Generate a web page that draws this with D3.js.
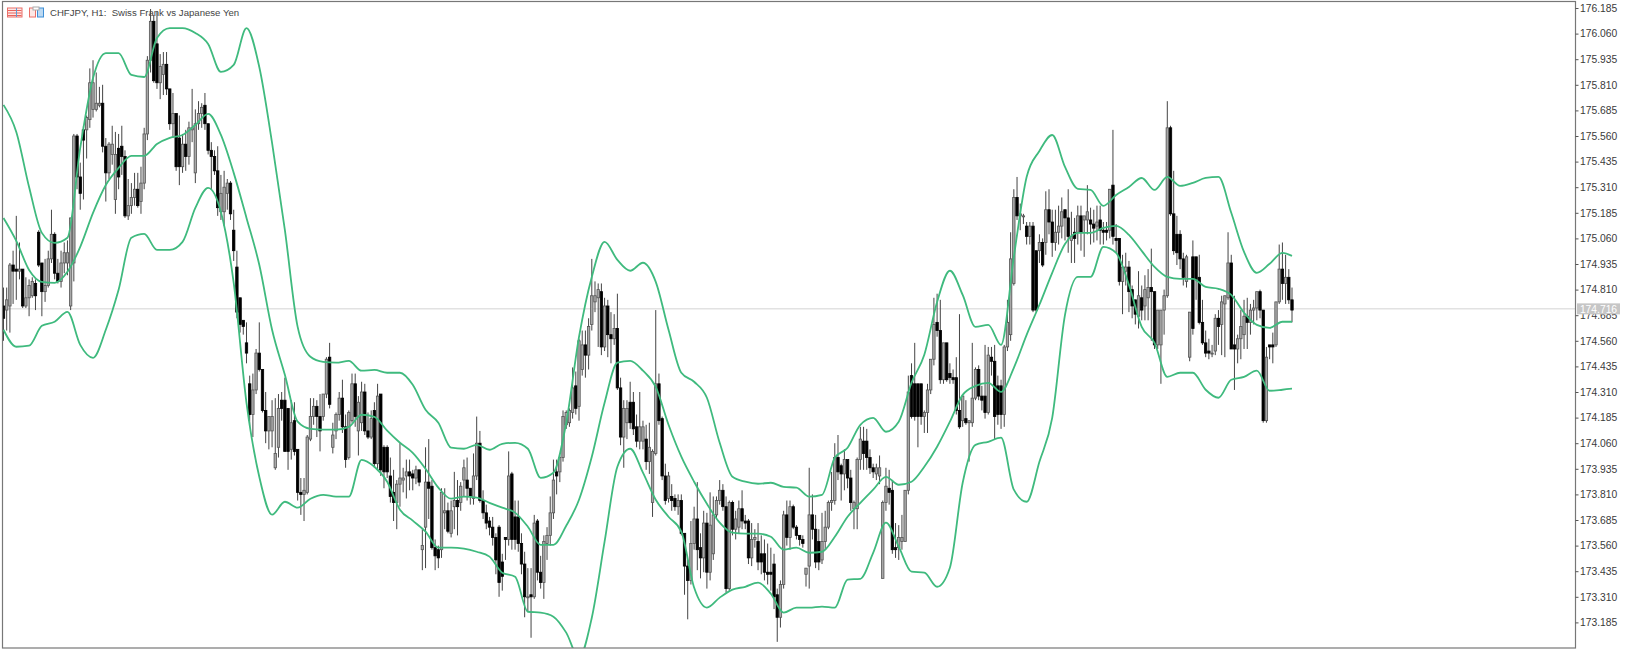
<!DOCTYPE html><html lang="en"><head><meta charset="utf-8">
<title>CHFJPY, H1</title>
<style>
html, body { margin: 0; padding: 0; background: #fff; overflow: hidden; }
svg { display: block; font-family: "Liberation Sans", sans-serif; }
</style>
<script src="https://cdn.jsdelivr.net/npm/d3@7"></script>
</head>
<body>
<div id="chart"></div>
<script>
const title = "CHFJPY, H1:  Swiss Frank vs Japanese Yen";
const lastPrice = 174.716;
const priceTicks = [176.185,176.060,175.935,175.810,175.685,175.560,175.435,175.310,175.185,175.060,174.935,174.810,174.685,174.560,174.435,174.310,174.185,174.060,173.935,173.810,173.685,173.560,173.435,173.310,173.185];

// one value per H1 bar
const highs = [
174.82,174.82,174.94,175.00,175.17,175.04,174.91,174.87,174.86,174.87,
174.86,175.10,174.94,174.96,175.00,175.20,175.09,174.96,175.00,175.04,
175.05,175.16,175.57,175.57,175.43,175.61,175.66,175.89,175.93,175.87,
175.80,175.81,175.55,175.53,175.61,175.58,175.57,175.61,175.49,175.35,
175.33,175.38,175.38,175.41,175.60,175.95,176.18,176.15,176.17,175.96,
175.97,175.97,175.79,175.77,175.67,175.66,175.57,175.59,175.63,175.79,
175.69,175.73,175.72,175.77,175.62,175.53,175.49,175.51,175.37,175.39,
175.35,175.34,175.20,175.00,174.77,174.66,174.65,174.39,174.40,174.52,
174.65,174.42,174.31,174.19,174.27,174.28,174.30,174.31,174.38,174.23,
174.27,174.26,174.03,173.89,173.89,174.10,174.28,174.28,174.27,174.30,
174.30,174.48,174.55,174.16,174.21,174.31,174.37,174.20,174.22,174.40,
174.40,174.29,174.36,174.35,174.21,174.22,174.26,174.35,174.30,174.05,
174.05,173.99,173.93,173.88,174.06,173.94,173.98,173.98,173.93,173.95,
173.93,173.64,174.04,174.08,173.88,173.59,173.56,173.84,173.84,173.77,
173.78,173.92,173.88,173.87,173.98,173.99,173.84,174.01,174.19,174.12,
173.83,173.76,173.70,173.70,173.62,173.66,173.52,173.60,174.02,173.92,
173.78,173.78,173.62,173.53,173.45,173.45,173.71,173.69,173.51,173.61,
173.65,173.80,173.98,173.98,174.00,174.22,174.22,174.23,174.43,174.41,
174.57,174.61,174.61,174.67,174.96,174.85,174.84,174.84,174.77,174.76,
174.70,174.69,174.79,174.38,174.27,174.27,174.36,174.31,174.20,174.31,
174.17,174.15,174.16,174.03,174.71,174.40,174.19,173.96,173.92,173.86,
173.81,173.81,173.81,173.62,173.49,173.68,173.75,173.87,173.62,173.73,
173.72,173.82,173.80,173.80,173.88,173.86,173.80,173.78,173.78,173.73,
173.78,173.83,173.71,173.69,173.67,173.64,173.67,173.61,173.59,173.57,
173.55,173.52,173.35,173.39,173.73,173.78,173.78,173.76,173.66,173.61,
173.61,173.45,173.94,173.81,173.71,173.64,173.72,173.73,173.78,173.92,
174.06,174.10,173.96,174.03,173.97,173.93,173.78,173.99,174.14,174.14,
174.13,174.03,173.96,173.96,174.00,173.78,173.94,173.93,173.88,173.67,
173.66,173.71,173.83,174.39,174.45,174.55,174.35,174.35,174.22,174.35,
174.47,174.77,174.79,174.76,174.55,174.55,174.45,174.42,174.48,174.69,
174.30,174.27,174.17,174.55,174.43,174.44,174.34,174.54,174.53,174.53,
174.54,174.39,174.37,174.54,174.76,175.09,175.30,175.36,175.23,175.18,
175.14,175.14,175.14,174.99,175.08,175.06,175.29,175.30,175.20,175.20,
175.22,175.26,175.20,175.30,175.19,175.16,175.22,175.22,175.16,175.32,
175.21,175.20,175.22,175.22,175.14,175.14,175.30,175.59,175.13,175.06,
174.98,174.99,174.95,174.83,174.76,174.90,174.83,174.88,174.91,175.01,
174.80,174.71,174.71,174.81,175.73,175.61,175.39,175.17,175.10,174.99,
174.98,174.70,175.05,174.97,174.98,174.76,174.61,174.57,174.54,174.69,
174.71,174.78,174.78,175.09,174.98,174.78,174.59,174.71,174.76,174.77,
174.74,174.76,174.78,174.81,174.71,174.53,174.54,174.60,174.75,175.03,
175.04,174.98,174.91,174.82];
const lows = [
174.56,174.61,174.60,174.74,174.76,174.86,174.72,174.72,174.68,174.77,
174.71,174.92,174.68,174.75,174.82,174.94,174.86,174.84,174.82,174.89,
174.88,174.71,174.85,175.30,175.20,175.25,175.45,175.60,175.65,175.68,
175.70,175.48,175.24,175.35,175.42,175.18,175.30,175.37,175.16,175.15,
175.18,175.22,175.21,175.18,175.30,175.54,175.87,175.82,175.79,175.74,
175.76,175.76,175.59,175.55,175.39,175.32,175.38,175.39,175.42,175.53,
175.33,175.59,175.60,175.59,175.47,175.30,175.37,175.17,175.15,175.12,
175.20,175.15,174.95,174.67,174.60,174.59,174.45,174.14,174.09,174.30,
174.41,174.21,174.06,174.03,174.04,173.93,173.99,174.17,174.02,173.93,
173.98,174.00,173.78,173.71,173.68,173.81,174.07,174.15,174.09,174.02,
174.17,174.28,174.23,174.01,174.08,174.17,174.11,173.94,173.98,174.16,
174.14,174.00,174.12,174.10,174.08,174.08,173.94,173.93,173.90,173.84,
173.89,173.77,173.68,173.64,173.75,173.82,173.79,173.83,173.83,173.86,
173.85,173.44,173.45,173.69,173.54,173.44,173.45,173.50,173.64,173.62,
173.60,173.64,173.61,173.73,173.80,173.78,173.76,173.76,173.88,173.77,
173.69,173.64,173.61,173.56,173.42,173.31,173.34,173.49,173.56,173.54,
173.54,173.53,173.42,173.21,173.24,173.11,173.30,173.39,173.35,173.30,
173.49,173.56,173.69,173.81,173.87,173.97,174.13,174.14,174.18,174.20,
174.17,174.39,174.38,174.42,174.61,174.70,174.53,174.49,174.51,174.48,
174.45,174.54,174.32,174.05,173.94,174.08,174.13,174.10,174.04,174.03,
174.03,173.93,173.91,173.70,174.00,174.15,173.88,173.76,173.77,173.73,
173.73,173.71,173.61,173.32,173.20,173.37,173.54,173.44,173.40,173.43,
173.35,173.39,173.49,173.69,173.76,173.73,173.33,173.34,173.61,173.59,
173.62,173.64,173.64,173.47,173.46,173.55,173.44,173.42,173.39,173.37,
173.34,173.25,173.09,173.16,173.35,173.56,173.54,173.64,173.59,173.56,
173.55,173.36,173.35,173.59,173.45,173.44,173.47,173.54,173.64,173.73,
173.76,173.88,173.78,173.83,173.84,173.73,173.64,173.64,173.93,173.93,
173.93,173.91,173.89,173.88,173.86,173.40,173.73,173.76,173.52,173.50,
173.49,173.54,173.58,173.81,174.18,174.17,174.04,174.15,174.11,174.11,
174.30,174.44,174.58,174.35,174.35,174.36,174.35,174.35,174.20,174.13,
174.14,174.15,173.97,174.14,174.27,174.27,174.22,174.18,174.20,174.39,
174.08,174.15,174.13,174.14,174.51,174.56,174.83,175.15,175.10,175.13,
175.03,175.03,174.70,174.70,174.94,174.92,174.98,175.08,174.97,175.00,
175.03,175.06,175.05,174.99,174.94,174.94,175.03,175.00,174.97,175.08,
175.03,175.04,175.05,175.03,175.03,175.05,175.06,175.03,174.99,174.83,
174.69,174.83,174.70,174.67,174.64,174.62,174.66,174.66,174.66,174.56,
174.52,174.52,174.35,174.59,174.77,175.17,174.98,174.93,174.91,174.83,
174.82,174.46,174.59,174.76,174.64,174.54,174.48,174.47,174.48,174.49,
174.54,174.49,174.48,174.76,174.52,174.32,174.45,174.47,174.52,174.52,
174.59,174.64,174.66,174.67,174.16,174.16,174.47,174.45,174.53,174.74,
174.76,174.74,174.74,174.65];
const opens = [
174.73,174.71,174.73,174.93,174.91,174.90,174.91,174.73,174.77,174.78,
174.84,175.09,174.94,174.80,174.83,174.96,175.08,174.89,174.85,174.94,
174.94,174.73,174.94,175.56,175.36,175.59,175.59,175.64,175.69,175.69,
175.71,175.72,175.51,175.38,175.47,175.25,175.50,175.51,175.46,175.17,
175.22,175.26,175.30,175.24,175.33,175.57,175.93,176.12,176.01,175.82,
175.86,175.91,175.79,175.62,175.67,175.55,175.41,175.52,175.46,175.59,
175.38,175.62,175.67,175.71,175.62,175.49,175.46,175.39,175.19,175.19,
175.28,175.33,175.10,174.92,174.77,174.66,174.55,174.35,174.20,174.32,
174.50,174.42,174.22,174.12,174.12,173.94,174.04,174.27,174.27,174.23,
174.03,174.17,174.03,173.82,173.81,173.82,174.08,174.19,174.24,174.19,
174.19,174.30,174.48,174.04,174.12,174.20,174.28,174.14,173.99,174.17,
174.35,174.12,174.16,174.31,174.12,174.09,174.22,173.96,174.30,174.04,
174.04,173.90,173.82,173.77,173.86,173.88,173.90,173.92,173.91,173.89,
173.93,173.54,173.65,173.87,173.85,173.55,173.54,173.54,173.72,173.73,
173.62,173.75,173.78,173.77,173.88,173.88,173.84,173.79,173.90,174.06,
173.78,173.72,173.68,173.65,173.60,173.65,173.48,173.60,173.59,173.91,
173.70,173.70,173.57,173.47,173.31,173.32,173.31,173.68,173.43,173.38,
173.57,173.61,173.72,173.92,173.92,173.99,174.15,174.16,174.21,174.34,
174.24,174.42,174.54,174.49,174.64,174.75,174.77,174.80,174.53,174.73,
174.59,174.57,174.62,174.33,174.09,174.16,174.26,174.26,174.14,174.07,
174.07,174.08,173.97,173.77,174.01,174.35,174.18,173.90,173.79,173.80,
173.79,173.75,173.78,173.62,173.46,173.39,173.57,173.69,173.55,173.50,
173.67,173.43,173.52,173.71,173.78,173.83,173.75,173.35,173.77,173.64,
173.65,173.74,173.68,173.68,173.50,173.59,173.58,173.52,173.52,173.43,
173.43,173.47,173.32,173.21,173.37,173.71,173.60,173.75,173.65,173.61,
173.59,173.42,173.46,173.71,173.64,173.58,173.49,173.58,173.65,173.77,
173.78,173.99,173.95,173.91,173.98,173.89,173.74,173.74,173.98,174.07,
174.07,173.99,173.94,173.91,173.90,173.40,173.77,173.84,173.83,173.55,
173.55,173.58,173.58,173.83,174.39,174.35,174.35,174.35,174.19,174.21,
174.32,174.47,174.65,174.61,174.37,174.55,174.40,174.38,174.38,174.22,
174.17,174.18,174.16,174.16,174.28,174.42,174.29,174.29,174.21,174.48,
174.46,174.34,174.34,174.20,174.53,174.59,174.84,175.26,175.17,175.17,
175.12,175.07,175.12,175.00,175.00,175.04,175.04,175.20,175.14,175.04,
175.09,175.12,175.20,175.16,175.05,175.09,175.09,175.17,175.15,175.15,
175.15,175.13,175.12,175.15,175.10,175.10,175.10,175.32,175.06,175.06,
174.85,174.90,174.92,174.81,174.76,174.68,174.77,174.73,174.77,174.82,
174.80,174.54,174.54,174.71,174.78,175.60,175.18,175.08,175.08,174.96,
174.85,174.48,174.97,174.97,174.87,174.65,174.55,174.51,174.50,174.51,
174.67,174.64,174.74,174.77,174.94,174.54,174.52,174.57,174.59,174.68,
174.65,174.71,174.72,174.80,174.71,174.17,174.54,174.54,174.54,174.75,
174.91,174.84,174.87,174.76];
const closes = [
174.67,174.76,174.93,174.90,174.90,174.91,174.73,174.77,174.83,174.85,
174.78,174.93,174.80,174.83,174.96,175.08,174.89,174.85,174.94,174.99,
174.99,175.16,175.56,175.36,175.28,175.54,175.65,175.82,175.82,175.72,
175.72,175.51,175.38,175.52,175.52,175.47,175.36,175.46,175.17,175.22,
175.26,175.30,175.22,175.33,175.57,175.93,176.12,175.83,175.82,175.90,
175.91,175.79,175.62,175.67,175.41,175.41,175.52,175.46,175.60,175.60,
175.62,175.67,175.70,175.62,175.49,175.46,175.39,175.21,175.28,175.31,
175.33,175.18,175.00,174.70,174.64,174.63,174.50,174.20,174.32,174.50,
174.42,174.22,174.12,174.19,174.19,174.01,174.23,174.23,174.02,174.02,
174.16,174.02,173.82,173.81,173.83,174.09,174.19,174.24,174.19,174.12,
174.30,174.47,174.25,174.10,174.20,174.28,174.14,173.98,174.21,174.35,
174.19,174.26,174.31,174.12,174.09,174.18,173.96,174.29,173.93,173.92,
173.92,173.80,173.77,173.86,173.89,173.89,173.92,173.90,173.89,173.93,
173.87,173.56,173.87,173.84,173.55,173.51,173.50,173.82,173.73,173.63,
173.73,173.78,173.75,173.85,173.94,173.84,173.80,173.90,174.06,173.78,
173.72,173.67,173.65,173.60,173.49,173.38,173.41,173.59,173.90,173.59,
173.59,173.57,173.47,173.31,173.31,173.31,173.67,173.43,173.38,173.58,
173.61,173.72,173.88,173.90,173.99,174.19,174.21,174.22,174.33,174.23,
174.56,174.54,174.49,174.63,174.78,174.78,174.81,174.53,174.73,174.59,
174.57,174.62,174.33,174.09,174.23,174.23,174.16,174.13,174.07,174.14,
174.14,173.97,174.04,174.02,174.35,174.17,173.90,173.78,173.90,173.78,
173.75,173.78,173.62,173.46,173.39,173.57,173.69,173.54,173.50,173.67,
173.43,173.66,173.71,173.78,173.83,173.75,173.35,173.77,173.64,173.69,
173.74,173.68,173.67,173.50,173.59,173.60,173.48,173.48,173.43,173.42,
173.42,173.31,173.21,173.37,173.71,173.60,173.75,173.65,173.61,173.59,
173.57,173.45,173.71,173.64,173.48,173.48,173.58,173.65,173.77,173.78,
173.99,173.92,173.91,173.98,173.89,173.77,173.77,173.98,174.08,174.01,
173.99,173.94,173.92,173.94,173.94,173.77,173.85,173.82,173.54,173.54,
173.60,173.60,173.83,174.31,174.19,174.19,174.19,174.19,174.21,174.32,
174.47,174.64,174.61,174.37,174.55,174.37,174.38,174.37,174.22,174.14,
174.29,174.16,174.17,174.28,174.42,174.29,174.27,174.21,174.49,174.46,
174.19,174.20,174.20,174.53,174.65,174.96,175.26,175.17,175.18,175.17,
175.07,175.12,174.71,174.71,175.04,174.93,175.20,175.14,175.04,175.09,
175.12,175.19,175.16,175.07,175.07,175.06,175.17,175.09,175.17,175.19,
175.13,175.11,175.14,175.10,175.09,175.09,175.30,175.07,175.05,174.85,
174.92,174.92,174.80,174.73,174.69,174.78,174.71,174.81,174.82,174.80,
174.54,174.71,174.71,174.78,175.60,175.18,175.00,174.99,174.96,174.87,
174.97,174.70,174.62,174.86,174.65,174.55,174.50,174.50,174.50,174.67,
174.63,174.75,174.78,174.94,174.52,174.52,174.57,174.63,174.68,174.65,
174.71,174.72,174.80,174.71,174.17,174.48,174.53,174.53,174.75,174.91,
174.84,174.87,174.76,174.71];

// Bollinger bands, read at every fourth bar
const bandBars = d3.range(0, 401, 4).concat([403]);
const upperBand = [
175.712,175.580,175.311,175.087,175.038,175.063,175.502,175.843,175.965,175.965,
175.858,175.848,176.039,176.087,176.087,176.063,176.009,175.873,175.907,176.087,
175.897,175.526,175.102,174.628,174.482,174.457,174.453,174.462,174.414,174.418,
174.404,174.404,174.345,174.223,174.160,174.038,174.033,174.052,174.028,174.057,
174.062,174.033,173.891,173.916,174.160,174.579,174.872,175.043,174.955,174.902,
174.941,174.848,174.614,174.404,174.360,174.282,174.062,173.896,173.872,173.862,
173.867,173.847,173.843,173.799,173.808,173.989,174.038,174.150,174.184,174.116,
174.165,174.355,174.492,174.750,174.902,174.784,174.628,174.638,174.540,174.970,
175.360,175.487,175.565,175.409,175.302,175.297,175.219,175.272,175.311,175.355,
175.297,175.360,175.316,175.331,175.355,175.360,175.185,174.994,174.892,174.936,
174.989,174.975];
const middleBand = [
175.160,175.048,174.906,174.848,174.843,174.897,175.019,175.185,175.321,175.404,
175.463,175.463,175.521,175.551,175.565,175.614,175.668,175.565,175.380,175.160,
174.931,174.614,174.394,174.165,174.130,174.126,174.126,174.140,174.199,174.189,
174.121,174.062,174.013,173.935,173.843,173.789,173.799,173.794,173.769,173.745,
173.721,173.652,173.564,173.564,173.657,173.784,173.994,174.257,174.453,174.462,
174.414,174.335,174.150,173.994,173.872,173.764,173.672,173.623,173.618,173.618,
173.603,173.540,173.550,173.525,173.530,173.603,173.701,173.769,173.833,173.896,
173.857,173.872,173.945,174.043,174.165,174.296,174.340,174.355,174.311,174.428,
174.589,174.736,174.892,175.033,175.087,175.087,175.111,175.121,175.077,174.999,
174.921,174.872,174.862,174.862,174.823,174.814,174.784,174.697,174.638,174.623,
174.653,174.653];
const lowerBand = [
174.614,174.531,174.536,174.633,174.653,174.701,174.540,174.477,174.614,174.809,
175.063,175.082,175.004,175.004,175.043,175.209,175.307,175.189,174.843,174.257,
173.896,173.711,173.774,173.745,173.789,173.808,173.799,173.799,173.979,173.945,
173.872,173.735,173.682,173.628,173.550,173.550,173.545,173.530,173.506,173.428,
173.408,173.237,173.233,173.213,173.135,173.013,173.208,173.579,173.945,174.033,
173.916,173.784,173.701,173.628,173.355,173.257,173.306,173.345,173.359,173.379,
173.325,173.233,173.257,173.257,173.262,173.257,173.394,173.398,173.525,173.672,
173.555,173.433,173.428,173.359,173.452,173.867,174.052,174.067,174.087,173.833,
173.774,173.969,174.184,174.687,174.872,174.872,175.019,174.989,174.833,174.628,
174.550,174.384,174.404,174.404,174.321,174.282,174.370,174.384,174.414,174.316,
174.321,174.326];

const width = 1628, height = 650;
const plot = { left: 2.5, right: 1575.5, top: 1.5, bottom: 648 };

const svg = d3.select("#chart").append("svg")
	.attr("width", width)
	.attr("height", height);

const x = d3.scaleLinear().domain([0, highs.length - 1]).range([3.5, 1292]);
const y = d3.scaleLinear().domain([176.185, 173.185]).range([8, 622.4]);

svg.append("defs").append("clipPath").attr("id", "plot-clip")
	.append("rect")
		.attr("x", plot.left)
		.attr("y", plot.top)
		.attr("width", plot.right - plot.left)
		.attr("height", plot.bottom - plot.top);

const g = svg.append("g").attr("clip-path", "url(#plot-clip)");

// last price line
g.append("line")
	.attr("x1", plot.left).attr("x2", plot.right)
	.attr("y1", y(lastPrice)).attr("y2", y(lastPrice))
	.attr("stroke", "#e2e2e2")
	.attr("stroke-width", 1.5);

// candles, softened a little since the source screenshot was resampled
const candles = g.append("g").style("filter", "blur(0.3px)");
const bars = d3.range(highs.length);
candles.append("g").selectAll("line").data(bars).join("line")
	.attr("x1", i => x(i)).attr("x2", i => x(i))
	.attr("y1", i => y(highs[i])).attr("y2", i => y(lows[i]))
	.attr("stroke", "#444")
	.attr("stroke-width", 1);
candles.append("g").selectAll("rect").data(bars).join("rect")
	.attr("x", i => x(i) - 1.2)
	.attr("width", 2.4)
	.attr("y", i => y(Math.max(opens[i], closes[i])))
	.attr("height", i => Math.max(1, Math.abs(y(opens[i]) - y(closes[i]))))
	.attr("fill", i => closes[i] >= opens[i] ? "#a8a8a8" : "#000")
	.attr("stroke", i => closes[i] >= opens[i] ? "#555" : "#000")
	.attr("stroke-width", 0.8);

// bands
const line = d3.line()
	.x((d, k) => x(bandBars[k]))
	.y(d => y(d))
	.curve(d3.curveMonotoneX);
[upperBand, middleBand, lowerBand].forEach(band => {
	g.append("path")
		.attr("d", line(band))
		.attr("fill", "none")
		.attr("stroke", "#3fba7e")
		.attr("stroke-width", 1.8);
});

// frame
svg.append("rect")
	.attr("x", plot.left).attr("y", plot.top)
	.attr("width", plot.right - plot.left)
	.attr("height", plot.bottom - plot.top)
	.attr("fill", "none")
	.attr("stroke", "#777")
	.attr("stroke-width", 1.2);

// price axis
const axis = svg.append("g")
	.attr("transform", `translate(${plot.right},0)`)
	.call(d3.axisRight(y).tickValues(priceTicks).tickFormat(d3.format(".3f")).tickSize(3).tickPadding(1.5));
axis.select(".domain").remove();
axis.selectAll("line").attr("stroke", "#555");
axis.selectAll("text")
	.attr("font-family", "'Liberation Sans', sans-serif")
	.attr("font-size", 10.3)
	.attr("fill", "#3a3a3a");

// last price label
svg.append("rect")
	.attr("x", 1577).attr("y", y(lastPrice) - 5.5)
	.attr("width", 43).attr("height", 11)
	.attr("fill", "#c6c6c6");
svg.append("text")
	.attr("x", 1598.5).attr("y", y(lastPrice) + 4)
	.attr("text-anchor", "middle")
	.attr("font-size", 10.3)
	.attr("fill", "#fff")
	.text(lastPrice.toFixed(3));

// title and the two little toolbar icons
const icon = svg.append("g");
icon.append("rect").attr("x", 7.5).attr("y", 8).attr("width", 14.5).attr("height", 9).attr("fill", "#fde8e6").attr("stroke", "#ea6f68");
icon.selectAll(".row").data([0, 1, 2]).join("line")
	.attr("x1", 8).attr("x2", 21.5)
	.attr("y1", d => 10.5 + d * 2.5).attr("y2", d => 10.5 + d * 2.5)
	.attr("stroke", "#e9625c");
icon.append("line").attr("x1", 16.5).attr("x2", 16.5).attr("y1", 8).attr("y2", 17).attr("stroke", "#5c9bd5");
icon.append("rect").attr("x", 29.5).attr("y", 8).attr("width", 6).attr("height", 9).attr("fill", "#fde8e6").attr("stroke", "#ea6f68");
icon.append("rect").attr("x", 37.5).attr("y", 8).attr("width", 6).attr("height", 9).attr("fill", "#bcd9f2").attr("stroke", "#3f8fd6");
icon.append("rect").attr("x", 33).attr("y", 7).attr("width", 6).attr("height", 3).attr("fill", "#fff").attr("stroke", "#aaa");

svg.append("text")
	.attr("x", 50).attr("y", 16)
	.attr("font-size", 9.6)
	.attr("fill", "#444")
	.style("white-space", "pre")
	.text(title);
</script>
</body>
</html>
